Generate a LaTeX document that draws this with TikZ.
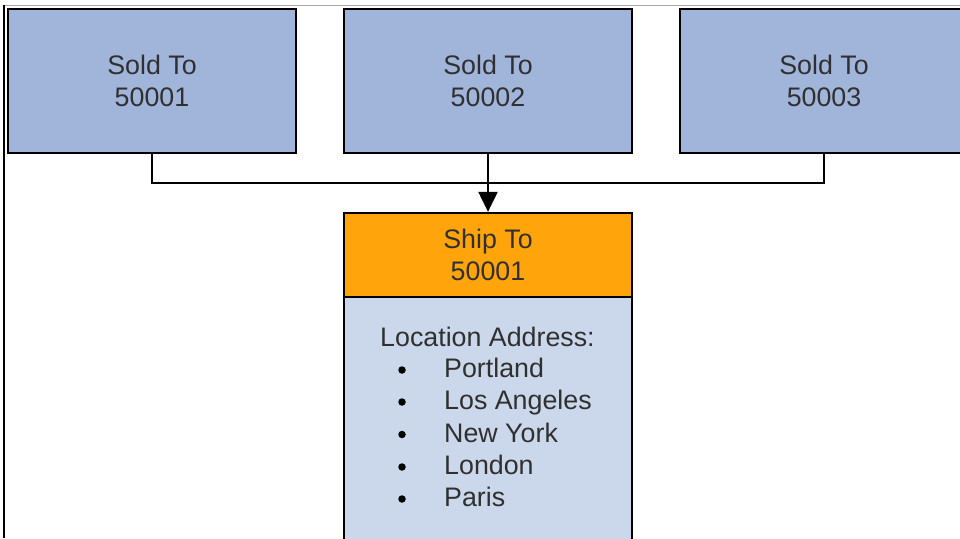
\documentclass[tikz,border=0pt]{standalone}
\usepackage{fontspec}
\setmainfont{Liberation Sans}
\usetikzlibrary{arrows.meta}
\definecolor{soldblue}{HTML}{A1B5DB}
\definecolor{shiporange}{HTML}{FFA40B}
\definecolor{addrblue}{HTML}{CBD8EB}
\definecolor{textgray}{HTML}{303030}
\begin{document}
\begin{tikzpicture}[x=1pt,y=-1pt,
  basebox/.style={draw=black, line width=2.3pt, inner sep=0pt, text=textgray,
    font=\fontsize{26.8}{32}\selectfont, align=center},
  soldbox/.style={basebox, fill=soldblue, minimum width=288pt, minimum height=144pt},
  shipbox/.style={basebox, fill=shiporange, minimum width=288pt, minimum height=84pt},
  addrbox/.style={basebox, fill=addrblue, minimum width=288pt, minimum height=266pt},
  listtext/.style={inner sep=0pt, text=textgray, font=\fontsize{26.8}{32}\selectfont, anchor=base west},
  bulletdot/.style={circle, fill=black, inner sep=0pt, minimum size=7.5pt},
  conn/.style={draw=black, line width=2.2pt},
  arr/.style={conn, -{Triangle[length=20pt, width=19pt]}}]
\useasboundingbox (0,0) rectangle (960,538);
\clip (0,0) rectangle (960,538);
% frame lines
\draw[line width=1pt, draw=gray!70] (4,5.5) -- (960,5.5);
\draw[line width=2pt, draw=black] (4.3,4.5) -- (4.3,538);
% boxes
\node[soldbox] (sold1) at (152,81) {Sold To\\50001};
\node[soldbox] (sold2) at (488,81) {Sold To\\50002};
\node[soldbox] (sold3) at (824,81) {Sold To\\50003};
\node[addrbox] (addr) at (488,430) {};
\node[shipbox] (ship) at (488,255) {Ship To\\50001};
% list
\node[listtext] (loc) at (380,346.5) {Location Address:};
\foreach \name/\city/\yy in {p/Portland/377.5, la/Los Angeles/409.5, ny/New York/442, lo/London/474.5, pa/Paris/506.5}{
  \node[bulletdot] (b\name) at (402,\yy-7.5) {};
  \node[listtext] (c\name) at (444,\yy) {\city};
}
% connectors
\coordinate (bus) at (488,183);
\draw[conn] (sold1.south) |- (bus) -| (sold3.south);
\draw[arr] (sold2.south) -- (ship.north);
\end{tikzpicture}
\end{document}
